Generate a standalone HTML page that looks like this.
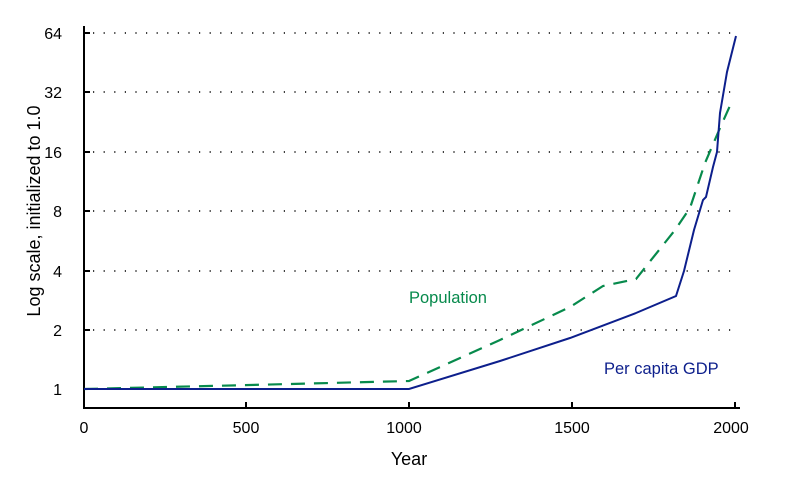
<!DOCTYPE html><html><head><style>body{margin:0;background:#fff}svg{display:block}text{font-family:"Liberation Sans",sans-serif;font-size:16px;fill:#000}</style></head><body>
<svg width="800" height="480" viewBox="0 0 800 480">
<g stroke="#000" stroke-width="1.4" stroke-dasharray="1.2 9.4" fill="none">
<line x1="93" y1="33" x2="736" y2="33"/><line x1="93" y1="92" x2="736" y2="92"/><line x1="93" y1="152" x2="736" y2="152"/><line x1="93" y1="211" x2="736" y2="211"/><line x1="93" y1="271" x2="736" y2="271"/><line x1="93" y1="330" x2="736" y2="330"/></g>
<g stroke="#000" stroke-width="2" fill="none">
<polyline points="84,26 84,408 740,408"/>
<line x1="84" y1="33" x2="90" y2="33"/><line x1="84" y1="92" x2="90" y2="92"/><line x1="84" y1="152" x2="90" y2="152"/><line x1="84" y1="211" x2="90" y2="211"/><line x1="84" y1="271" x2="90" y2="271"/><line x1="84" y1="330" x2="90" y2="330"/><line x1="84" y1="389" x2="90" y2="389"/>
<line x1="246" y1="408" x2="246" y2="402"/><line x1="409" y1="408" x2="409" y2="402"/><line x1="572" y1="408" x2="572" y2="402"/><line x1="735" y1="408" x2="735" y2="402"/></g>
<polyline fill="none" stroke="#078a4c" stroke-width="2.2" stroke-dasharray="14 9" points="84,389 250,385 409,381 500,340 570,307 603,286 636,279 675,230 690,208 705,163 720,128 733,99"/>
<polyline fill="none" stroke="#0d1f8c" stroke-width="2" points="84,389 409,389 500,361 570,338 636,313 676,296 684,271 694,230 703,200 706,197 713,167 717,152 720,113 727,72 736,36"/>
<g text-anchor="end"><text x="62" y="39">64</text><text x="62" y="98">32</text><text x="62" y="158">16</text><text x="62" y="217">8</text><text x="62" y="277">4</text><text x="62" y="336">2</text><text x="62" y="395">1</text></g>
<g text-anchor="middle"><text x="84" y="433">0</text><text x="246" y="433">500</text><text x="404" y="433">1000</text><text x="572" y="433">1500</text><text x="731" y="433">2000</text>
<text x="409" y="465" style="font-size:18px">Year</text>
<text transform="translate(40,211) rotate(-90)" style="font-size:18px">Log scale, initialized to 1.0</text></g>
<text x="409" y="303" style="fill:#078a4c;font-size:16.5px">Population</text>
<text x="604" y="374" style="fill:#0d1f8c;font-size:16.5px">Per capita GDP</text>
</svg></body></html>
